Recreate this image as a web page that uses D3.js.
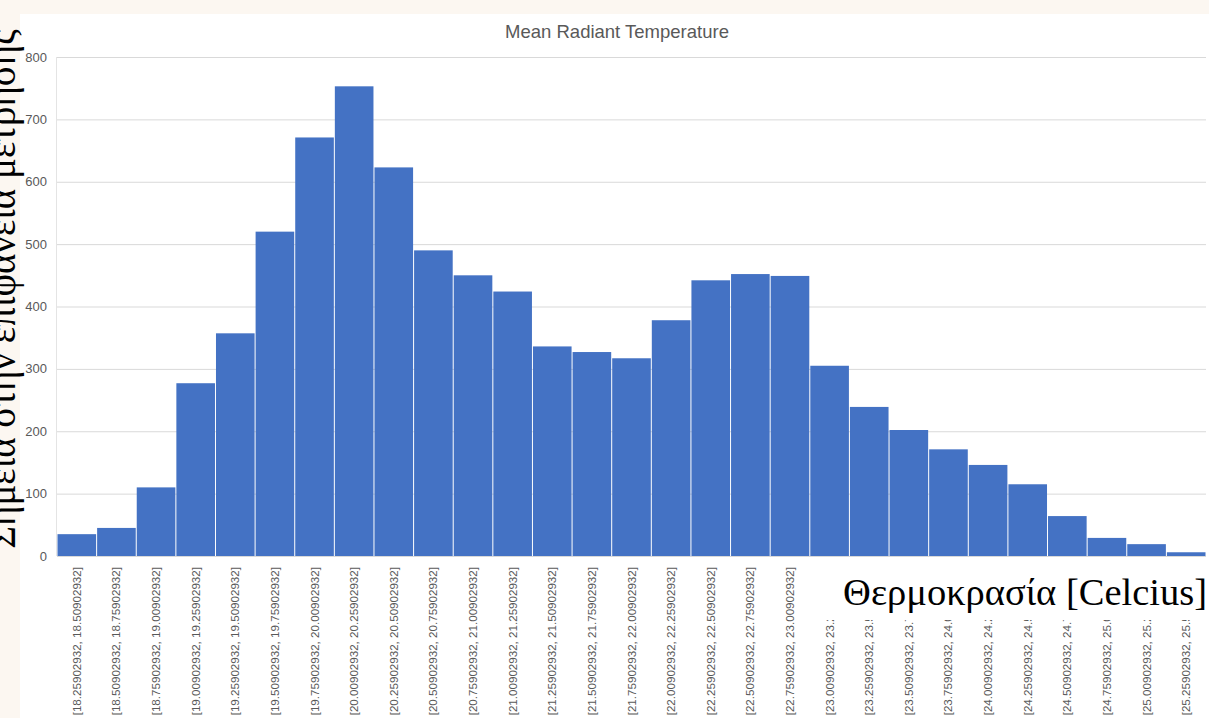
<!DOCTYPE html>
<html>
<head>
<meta charset="utf-8">
<script src="https://cdn.jsdelivr.net/npm/d3@7"></script>
<style>
  html, body { margin: 0; padding: 0; background: #fcf7f1; }
  svg { display: block; }
</style>
</head>
<body>
<div id="chart"></div>
<script>
// bin edges (lower bounds) and counts
const binStarts = ["18.25902932", "18.50902932", "18.75902932", "19.00902932", "19.25902932", "19.50902932",
    "19.75902932", "20.00902932", "20.25902932", "20.50902932", "20.75902932", "21.00902932", "21.25902932",
    "21.50902932", "21.75902932", "22.00902932", "22.25902932", "22.50902932", "22.75902932", "23.00902932",
    "23.25902932", "23.50902932", "23.75902932", "24.00902932", "24.25902932", "24.50902932", "24.75902932",
    "25.00902932", "25.25902932"]
const binEnds = ["18.50902932", "18.75902932", "19.00902932", "19.25902932", "19.50902932", "19.75902932",
    "20.00902932", "20.25902932", "20.50902932", "20.75902932", "21.00902932", "21.25902932", "21.50902932",
    "21.75902932", "22.00902932", "22.25902932", "22.50902932", "22.75902932", "23.00902932", "23.25902932",
    "23.50902932", "23.75902932", "24.00902932", "24.25902932", "24.50902932", "24.75902932", "25.00902932",
    "25.25902932", "25.50902932"]
const counts = [35, 45, 110, 277, 357, 520, 671, 753, 623, 490, 450, 424, 336, 327, 317, 378, 442, 452, 449,
    305, 239, 202, 171, 146, 115, 64, 29, 19, 6]
const yTicks = [0, 100, 200, 300, 400, 500, 600, 700, 800]

const title = "Mean Radiant Temperature"
const yTitle = "Σημεία στην επιφάνεια μετρήσης"
const xTitle = "Θερμοκρασία [Celcius]"

const width = 1209
const height = 718
const margin = ({top: 57, right: 3, bottom: 162, left: 57})

const labels = binStarts.map((s, i) => "[" + s + ", " + binEnds[i] + "]")

const svg = d3.select("#chart").append("svg")
    .attr("width", width)
    .attr("height", height)

// white chart sheet
svg.append("rect")
    .attr("x", 20).attr("y", 14)
    .attr("width", width - 20).attr("height", height - 14)
    .attr("fill", "#ffffff")

const x = d3.scaleBand()
    .domain(d3.range(counts.length))
    .range([margin.left, width - margin.right])
    .padding(0)

const y = d3.scaleLinear()
    .domain([0, 800])
    .range([height - margin.bottom, margin.top])

// gridlines
svg.append("g")
    .selectAll("line")
    .data(yTicks)
    .join("line")
    .attr("x1", margin.left)
    .attr("x2", width - margin.right)
    .attr("y1", d => y(d) + 0.5)
    .attr("y2", d => y(d) + 0.5)
    .attr("stroke", "#d9d9d9")
    .attr("stroke-width", 1)

svg.append("line")
    .attr("x1", margin.left - 0.5).attr("x2", margin.left - 0.5)
    .attr("y1", y(800)).attr("y2", y(0))
    .attr("stroke", "#e4e4e4")

// y tick labels
svg.append("g")
    .attr("font-family", "Liberation Sans, Arial, sans-serif")
    .attr("font-size", 13)
    .attr("fill", "#595959")
    .attr("text-anchor", "end")
    .selectAll("text")
    .data(yTicks)
    .join("text")
    .attr("x", 47)
    .attr("y", d => y(d))
    .attr("dy", "0.35em")
    .text(d => d)

// bars
svg.append("g")
    .selectAll("rect")
    .data(counts)
    .join("rect")
    .attr("x", (d, i) => x(i) + 0.5)
    .attr("y", d => y(d))
    .attr("width", x.bandwidth() - 1)
    .attr("height", d => y(0) - y(d))
    .attr("fill", "#4472c4")

// category labels, rotated
svg.append("g")
    .attr("font-family", "Liberation Sans, Arial, sans-serif")
    .attr("font-size", 11.6)
    .attr("fill", "#595959")
    .attr("text-anchor", "end")
    .selectAll("text")
    .data(labels)
    .join("text")
    .attr("transform", (d, i) => `translate(${x(i) + x.bandwidth() / 2 + 4},567) rotate(-90)`)
    .text(d => d)

// title
svg.append("text")
    .attr("x", 617)
    .attr("y", 38)
    .attr("text-anchor", "middle")
    .attr("font-family", "Liberation Sans, Arial, sans-serif")
    .attr("font-size", 18.5)
    .attr("fill", "#595959")
    .text(title)

// pasted-on x title with its white box
svg.append("rect")
    .attr("x", 803).attr("y", 563)
    .attr("width", width - 803).attr("height", 57)
    .attr("fill", "#ffffff")

svg.append("text")
    .attr("x", 1207)
    .attr("y", 605)
    .attr("text-anchor", "end")
    .attr("font-family", "Liberation Serif, serif")
    .attr("font-size", 38.5)
    .attr("fill", "#000000")
    .text(xTitle)

// big y title on the left, partly cut off as in the reference
svg.append("text")
    .attr("transform", "translate(15,289) rotate(-90)")
    .attr("text-anchor", "middle")
    .attr("font-family", "Liberation Serif, serif")
    .attr("font-size", 39)
    .attr("fill", "#000000")
    .text(yTitle)
</script>
</body>
</html>
